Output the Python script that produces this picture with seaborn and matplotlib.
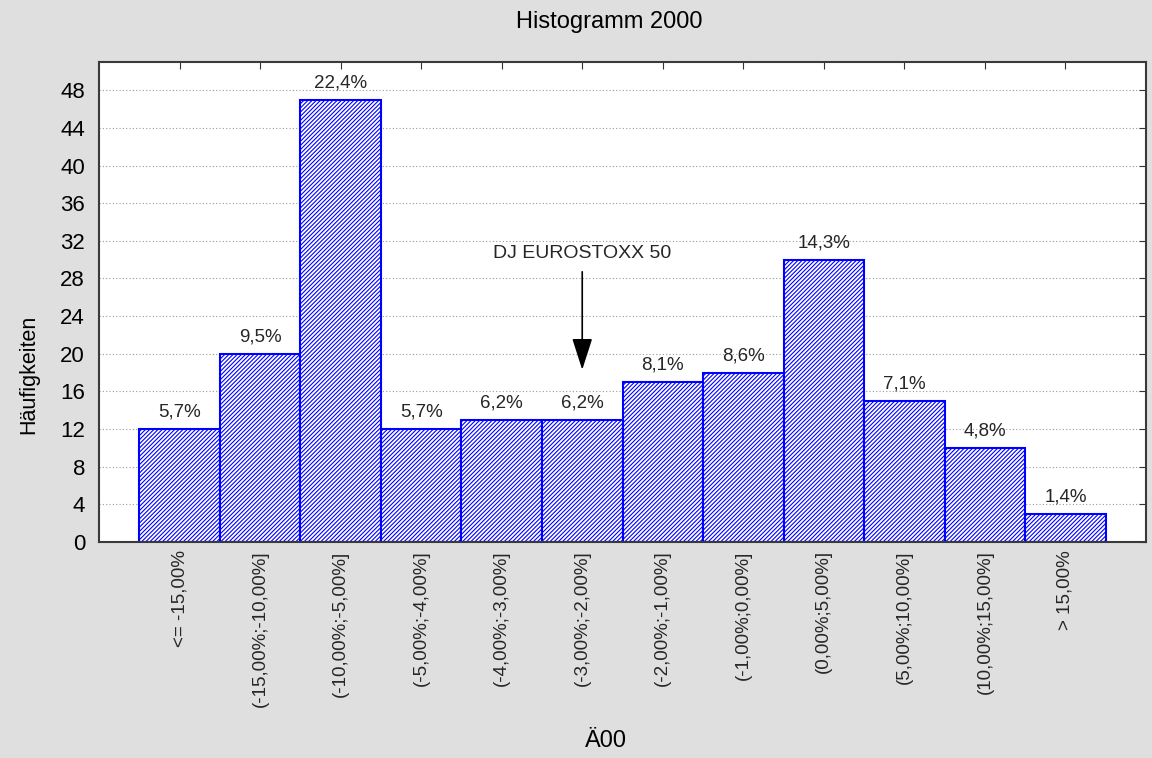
import matplotlib
matplotlib.use("Agg")
import matplotlib.pyplot as plt
import seaborn as sns

# data
categories = ["<= -15,00%", "(-15,00%;-10,00%]", "(-10,00%;-5,00%]", "(-5,00%;-4,00%]",
              "(-4,00%;-3,00%]", "(-3,00%;-2,00%]", "(-2,00%;-1,00%]", "(-1,00%;0,00%]",
              "(0,00%;5,00%]", "(5,00%;10,00%]", "(10,00%;15,00%]", "> 15,00%"]
counts = [12, 20, 47, 12, 13, 13, 17, 18, 30, 15, 10, 3]
pct_labels = ["5,7%", "9,5%", "22,4%", "5,7%", "6,2%", "6,2%",
              "8,1%", "8,6%", "14,3%", "7,1%", "4,8%", "1,4%"]
y_ticks = list(range(0, 49, 4))

sns.set_style("white")
plt.rcParams["font.family"] = ["Liberation Sans", "DejaVu Sans"]
plt.rcParams["hatch.color"] = "blue"
plt.rcParams["hatch.linewidth"] = 0.8

bg = "#dfdfdf"
fig = plt.figure(figsize=(11.52, 7.58), dpi=100, facecolor=bg)
ax = fig.add_axes([99 / 1152, 1 - 542 / 758, (1146 - 99) / 1152, (542 - 62) / 758])
ax.set_facecolor("white")

sns.barplot(x=categories, y=counts, ax=ax, color="white", saturation=1,
            width=1.0, edgecolor="blue", linewidth=1.5, hatch="////////", zorder=2)

for i, (c, lab) in enumerate(zip(counts, pct_labels)):
    ax.text(i, c + 0.9, lab, ha="center", va="bottom", fontsize=13.5, color="#262626")

ax.set_xlim(-1, 12)
ax.set_ylim(0, 51)
ax.set_yticks(y_ticks)
ax.yaxis.grid(True, linestyle=(0, (1, 2)), color="#9a9a9a", linewidth=0.8, zorder=0)
ax.set_axisbelow(True)

ax.tick_params(axis="y", left=False, right=True, direction="in", length=5,
               labelsize=16, color="#333333", pad=10, labelcolor="black")
ax.tick_params(axis="x", bottom=True, top=True, direction="in", length=5,
               labelsize=13.5, color="#333333", pad=6, labelcolor="#262626")
plt.setp(ax.get_xticklabels(), rotation=90, va="top", ha="center")

for s in ax.spines.values():
    s.set_color("#3a3a3a")
    s.set_linewidth(1.5)

ax.set_xlabel("")
ax.set_ylabel("")
fig.text(609 / 1152, 1 - 22 / 758, "Histogramm 2000", ha="center", va="center",
         fontsize=17, color="black")
fig.text(606 / 1152, 1 - 741 / 758, "Ä00", ha="center", va="center",
         fontsize=17, color="black")
fig.text(29 / 1152, 1 - 374 / 758, "Häufigkeiten", ha="center", va="center",
         rotation=90, fontsize=15.5, color="black")

ax.annotate("DJ EUROSTOXX 50", xy=(5, 18.3), xytext=(5, 30.7),
            ha="center", va="center", fontsize=14, color="#262626",
            arrowprops=dict(arrowstyle="-|>,head_length=1.4,head_width=0.45",
                            color="black", lw=1.2, shrinkA=5, shrinkB=0))

fig.savefig("out.png", dpi=100, facecolor=bg)
